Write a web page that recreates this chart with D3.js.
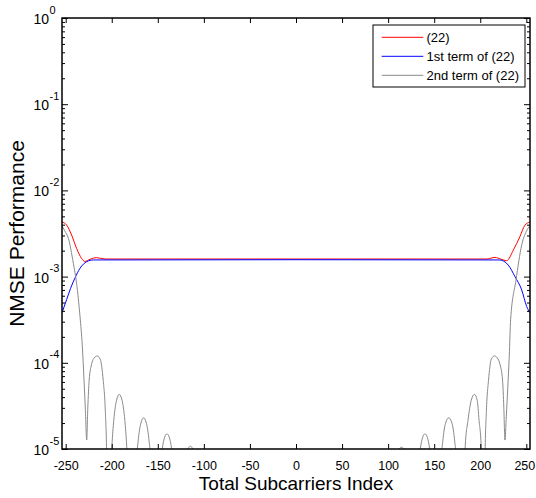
<!DOCTYPE html>
<html>
<head>
<meta charset="utf-8">
<script src="https://cdn.jsdelivr.net/npm/d3@7"></script>
<style>
  body { margin: 0; background: #fff; }
  svg { display: block; font-family: "Liberation Sans", Arial, sans-serif; }
</style>
</head>
<body>
<svg width="536" height="498"></svg>
<script>
// tick values
const xTicks = [-250, -200, -150, -100, -50, 0, 50, 100, 150, 200, 250];
const yExps = [0, -1, -2, -3, -4, -5];
const seriesNames = ['(22)', '1st term of (22)', '2nd term of (22)'];

// (22) : total NMSE
const totalIdx = [-254, -249, -243.6, -238.2, -232.8, -229.2, -223.6, -216.4, -207.3, -150, 0, 150, 207, 216, 222, 228.7, 236, 243, 248.5, 254];
const totalVal = [4.3e-3, 3.97e-3, 3.04e-3, 2.13e-3, 1.63e-3, 1.5e-3, 1.59e-3, 1.66e-3, 1.6e-3, 1.6e-3, 1.6e-3, 1.6e-3, 1.6e-3, 1.67e-3, 1.6e-3, 1.53e-3, 2.04e-3, 2.9e-3, 3.95e-3, 4.3e-3];

// 1st term of (22)
const firstIdx = [-254, -249, -244.7, -240, -234.4, -227.2, -220, 0, 221, 230.4, 237.7, 245, 250.4, 254];
const firstVal = [3.8e-4, 5.4e-4, 7.3e-4, 9.6e-4, 1.25e-3, 1.49e-3, 1.56e-3, 1.57e-3, 1.56e-3, 1.36e-3, 1.0e-3, 7e-4, 4.5e-4, 3.8e-4];

// 2nd term of (22)
const secondIdx = [
  -254, -251, -247.1, -241.7, -238.2, -234.4, -232, -230.1, -228.6, -227.2, -226, -224.5, -222, -219, -215.8, -212.5, -209.3, -207, -205.5, -204,
  -201.8, -199.8, -197.8, -194.8, -191.8, -188.8, -185.8, -183.8, -181.8, -179,
  -173.4, -171.4, -168.4, -165.4, -162.4, -159.4, -157.4, -153,
  -147.1, -145.1, -142.6, -140.1, -137.6, -135.1, -133.1, -127,
  -118.7, -117.2, -114.7, -112.2, -110.7, -102,
  102, 110.5, 112, 114.5, 117, 118.5, 127,
  133, 135, 137.5, 140, 142.5, 145, 147, 153,
  157.3, 159.3, 162.3, 165.8, 169.3, 172.3, 174.3, 179,
  181.7, 183.7, 186.7, 190.2, 193.7, 196.7, 198.7, 201, 203.8,
  205.2, 206.7, 209, 212, 215.5, 218.5, 221.5, 224.2, 225.6, 226.8, 228.3, 229.8, 231.5, 233, 238.8, 245, 251, 254
];
const secondVal = [
  3.9e-3, 3.4e-3, 2.78e-3, 1.43e-3, 8.4e-4, 3.4e-4, 1.6e-4, 6.3e-5, 2.8e-5, 1.27e-5, 3e-5, 6.3e-5, 9.5e-5, 1.14e-4, 1.2e-4, 1.1e-4, 6.3e-5, 2.8e-5, 8e-6, 1e-8,
  2.9e-6, 1.08e-5, 2.15e-5, 3.67e-5, 4.3e-5, 3.67e-5, 2.15e-5, 1.08e-5, 2.9e-6, 1e-8,
  6.6e-6, 1.22e-5, 1.99e-5, 2.3e-5, 1.99e-5, 1.22e-5, 6.6e-6, 1e-8,
  6.6e-6, 1.02e-5, 1.37e-5, 1.5e-5, 1.37e-5, 1.02e-5, 6.6e-6, 1e-8,
  7e-6, 1e-5, 1.08e-5, 1e-5, 7e-6, 1e-8,
  1e-8, 7e-6, 1e-5, 1.05e-5, 1e-5, 7e-6, 1e-8,
  6.6e-6, 1.02e-5, 1.37e-5, 1.5e-5, 1.37e-5, 1.02e-5, 6.6e-6, 1e-8,
  6.6e-6, 1.22e-5, 1.99e-5, 2.3e-5, 1.99e-5, 1.22e-5, 6.6e-6, 1e-8,
  2.9e-6, 1.08e-5, 2.15e-5, 3.67e-5, 4.3e-5, 3.67e-5, 2.15e-5, 1.08e-5, 1e-8,
  8e-6, 2.8e-5, 6.3e-5, 1.1e-4, 1.2e-4, 1.14e-4, 9.5e-5, 6.3e-5, 3e-5, 1.27e-5, 2.4e-5, 5e-5, 1.2e-4, 3.2e-4, 9.1e-4, 2.33e-3, 3.5e-3, 3.9e-3
];

(function (d3) {
  const svg = d3.select('svg');

  const left = 62, right = 530, top = 18, bottom = 449;

  const xScale = d3.scaleLinear().domain([-254, 254]).range([left, right]);
  const yScale = d3.scaleLog().domain([1e-5, 1]).range([bottom, top]);

  const zip = (xs, ys) => xs.map((x, i) => ({ x, y: ys[i] }));

  svg.append('defs').append('clipPath')
      .attr('id', 'plot-clip')
    .append('rect')
      .attr('x', left).attr('y', top)
      .attr('width', right - left).attr('height', bottom - top);

  const line = d3.line()
    .x(d => xScale(d.x))
    .y(d => yScale(d.y))
    .curve(d3.curveMonotoneX);

  const series = [
    { name: seriesNames[0], data: zip(totalIdx, totalVal), color: '#ff0000' },
    { name: seriesNames[1], data: zip(firstIdx, firstVal), color: '#0000ff' },
    { name: seriesNames[2], data: zip(secondIdx, secondVal), color: '#8a8a8a' }
  ];

  const plot = svg.append('g').attr('clip-path', 'url(#plot-clip)');
  plot.selectAll('path').data(series)
    .enter().append('path')
      .attr('d', d => line(d.data))
      .attr('fill', 'none')
      .attr('stroke', d => d.color)
      .attr('stroke-width', 1);

  // minor ticks for the log axis
  const minorTicks = [];
  yExps.slice(1).forEach(e => {
    [2, 3, 4, 5, 6, 7, 8, 9].forEach(m => minorTicks.push(m * Math.pow(10, e)));
  });
  const majorTicks = yExps.map(e => Math.pow(10, e));

  const styleAxis = g => {
    g.selectAll('.domain').remove();
    g.selectAll('line').attr('stroke', '#000').attr('stroke-width', 1);
  };

  // left / right
  svg.append('g').attr('transform', `translate(${left},0)`)
    .call(d3.axisLeft(yScale).tickValues(majorTicks).tickSize(-6).tickFormat(''))
    .call(styleAxis);
  svg.append('g').attr('transform', `translate(${left},0)`)
    .call(d3.axisLeft(yScale).tickValues(minorTicks).tickSize(-3).tickFormat(''))
    .call(styleAxis);
  svg.append('g').attr('transform', `translate(${right},0)`)
    .call(d3.axisRight(yScale).tickValues(majorTicks).tickSize(-6).tickFormat(''))
    .call(styleAxis);
  svg.append('g').attr('transform', `translate(${right},0)`)
    .call(d3.axisRight(yScale).tickValues(minorTicks).tickSize(-3).tickFormat(''))
    .call(styleAxis);

  // bottom / top
  const xAxisG = svg.append('g').attr('transform', `translate(0,${bottom})`)
    .call(d3.axisBottom(xScale).tickValues(xTicks).tickSize(-5).tickPadding(12).tickFormat(d => d))
    .call(styleAxis);
  xAxisG.selectAll('text')
    .attr('fill', '#000')
    .style('font-size', '12.5px')
    .style('font-family', '"Liberation Sans", Arial, sans-serif')
    .filter(d => d === xTicks[xTicks.length - 1])
      .attr('dx', -2);
  svg.append('g').attr('transform', `translate(0,${top})`)
    .call(d3.axisTop(xScale).tickValues(xTicks).tickSize(-5).tickFormat(''))
    .call(styleAxis);

  // y tick labels 10^k
  const yLabels = svg.append('g').attr('class', 'y-labels');
  yExps.forEach(e => {
    const y = yScale(Math.pow(10, e));
    yLabels.append('text')
      .attr('x', 49).attr('y', y + 6)
      .attr('text-anchor', 'end')
      .style('font-size', '14px')
      .text('10');
    yLabels.append('text')
      .attr('x', 49.5).attr('y', y - 4.5)
      .style('font-size', '11px')
      .text(e);
  });

  // frame
  svg.append('rect')
    .attr('x', left).attr('y', top)
    .attr('width', right - left).attr('height', bottom - top)
    .attr('fill', 'none')
    .attr('stroke', '#000')
    .attr('stroke-width', 1.5);

  // axis titles
  svg.append('text')
    .attr('x', (left + right) / 2).attr('y', 490)
    .attr('text-anchor', 'middle')
    .style('font-size', '19px')
    .text('Total Subcarriers Index');

  svg.append('text')
    .attr('transform', `translate(24,${(top + bottom) / 2}) rotate(-90)`)
    .attr('text-anchor', 'middle')
    .style('font-size', '21px')
    .text('NMSE Performance');

  // legend
  const legend = svg.append('g').attr('transform', 'translate(373,25)');
  legend.append('rect')
    .attr('width', 152).attr('height', 62)
    .attr('fill', '#fff')
    .attr('stroke', '#000')
    .attr('stroke-width', 1);
  const item = legend.selectAll('.item').data(series)
    .enter().append('g')
      .attr('class', 'item')
      .attr('transform', (d, i) => `translate(0,${12.3 + i * 19})`);
  item.append('line')
    .attr('x1', 8.7).attr('x2', 50.3)
    .attr('stroke', d => d.color)
    .attr('stroke-width', 1);
  item.append('text')
    .attr('x', 53.5).attr('y', 4.5)
    .style('font-size', '13px')
    .text(d => d.name);
}(d3));
</script>
</body>
</html>
